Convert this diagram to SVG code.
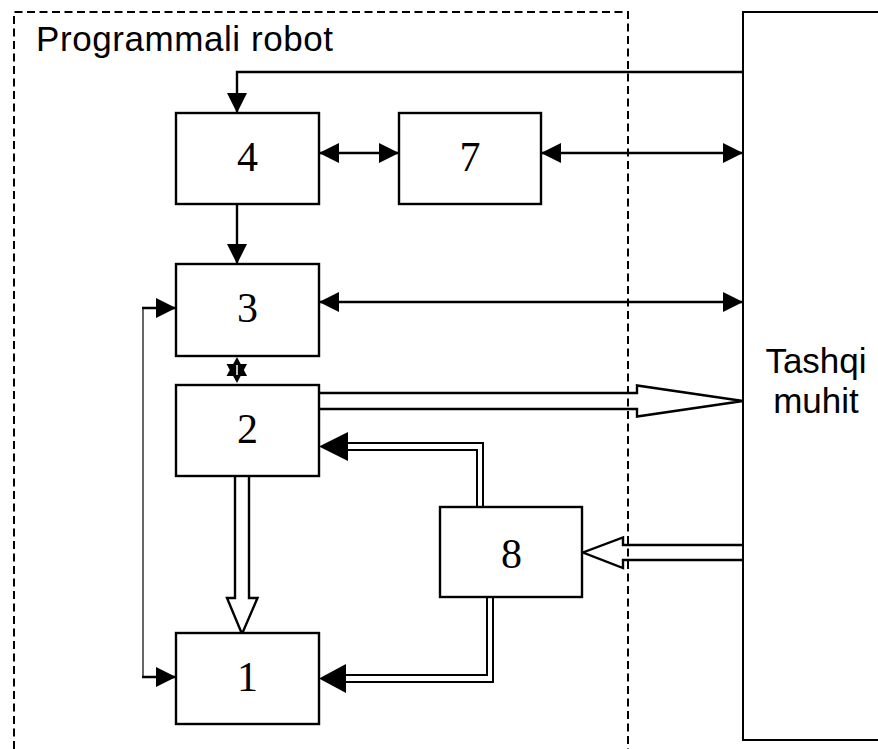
<svg xmlns="http://www.w3.org/2000/svg" width="878" height="749" viewBox="0 0 878 749">
<defs>
<style>
.box{fill:#fff;stroke:#000;stroke-width:2.4}
.num{font-family:"Liberation Serif","Times New Roman",serif;font-size:42px;text-anchor:middle;fill:#000}
.lbl{font-family:"Liberation Sans",Arial,sans-serif;font-size:35px;fill:#000}
.ln{fill:none;stroke:#000;stroke-width:2.4}
.dl{fill:none;stroke:#000;stroke-width:2}
.hol{fill:none;stroke:#000;stroke-width:2.4;stroke-linejoin:miter}
</style>
<marker id="ah" viewBox="0 0 20 20" refX="20" refY="10" markerWidth="20" markerHeight="20" orient="auto-start-reverse" markerUnits="userSpaceOnUse">
<path d="M0,0 L20,10 L0,20 z" fill="#000"/>
</marker>
</defs>
<rect width="878" height="749" fill="#fff"/>
<g id="robot-frame">
<path d="M14,749 V12 H628 V749" fill="none" stroke="#000" stroke-width="2" stroke-dasharray="8 4.5"/>
<text class="lbl" x="36" y="51" textLength="297">Programmali robot</text>
</g>
<g id="env">
<path d="M878,12 H743 V740 H878" fill="#fff" stroke="#000" stroke-width="2"/>
<text class="lbl" x="816" y="373" text-anchor="middle">Tashqi</text>
<text class="lbl" x="816" y="413" text-anchor="middle">muhit</text>
</g>
<g id="connectors">
<path class="ln" d="M743,72 H237 V113" marker-end="url(#ah)"/>
<path class="ln" d="M319,153 H399" marker-start="url(#ah)" marker-end="url(#ah)"/>
<path class="ln" d="M541,153 H743" marker-start="url(#ah)" marker-end="url(#ah)"/>
<path class="ln" d="M237,204 V264" marker-end="url(#ah)"/>
<path class="ln" d="M319,302 H743" marker-start="url(#ah)" marker-end="url(#ah)"/>
<path d="M143,308 V677" fill="none" stroke="#000" stroke-width="1.2"/>
<path class="ln" d="M142,308 H176" marker-end="url(#ah)"/>
<path class="ln" d="M142,677 H176" marker-end="url(#ah)"/>
<g id="star">
<path d="M237,357 L226.5,376 L247,376 z" fill="#000"/>
<path d="M237,383 L226.5,364 L247,364 z" fill="#000"/>
<path d="M237,365 V375" stroke="#fff" stroke-width="1.5"/>
</g>
<path class="hol" d="M319,393 H637 V385.5 L743,401 L637,416.5 V409 H319"/>
<path class="dl" d="M483,507 V443 H346"/>
<path class="dl" d="M477,507 V450 H346"/>
<path d="M319,446.5 L348,432 L348,461 z" fill="#000"/>
<path class="hol" d="M235,476 V598 H227 L242,634 L257.5,598 H249 V476"/>
<path class="hol" d="M743,545 H623 V537.5 L583,552.5 L623,568 V560 H743"/>
<path class="dl" d="M493,597 V682 H344"/>
<path class="dl" d="M487,597 V675 H344"/>
<path d="M319,678.5 L346,664 L346,693 z" fill="#000"/>
</g>
<g id="node-4"><rect class="box" x="176" y="113" width="143" height="91"/><text class="num" x="247.5" y="171">4</text></g>
<g id="node-7"><rect class="box" x="399" y="113" width="142" height="91"/><text class="num" x="470" y="171">7</text></g>
<g id="node-3"><rect class="box" x="176" y="264" width="143" height="92"/><text class="num" x="247.5" y="322">3</text></g>
<g id="node-2"><rect class="box" x="176" y="385" width="143" height="91"/><text class="num" x="247.5" y="443">2</text></g>
<g id="node-8"><rect class="box" x="440" y="507" width="142" height="90"/><text class="num" x="511.5" y="568">8</text></g>
<g id="node-1"><rect class="box" x="176" y="633" width="143" height="91"/><text class="num" x="247.5" y="691">1</text></g>
</svg>
